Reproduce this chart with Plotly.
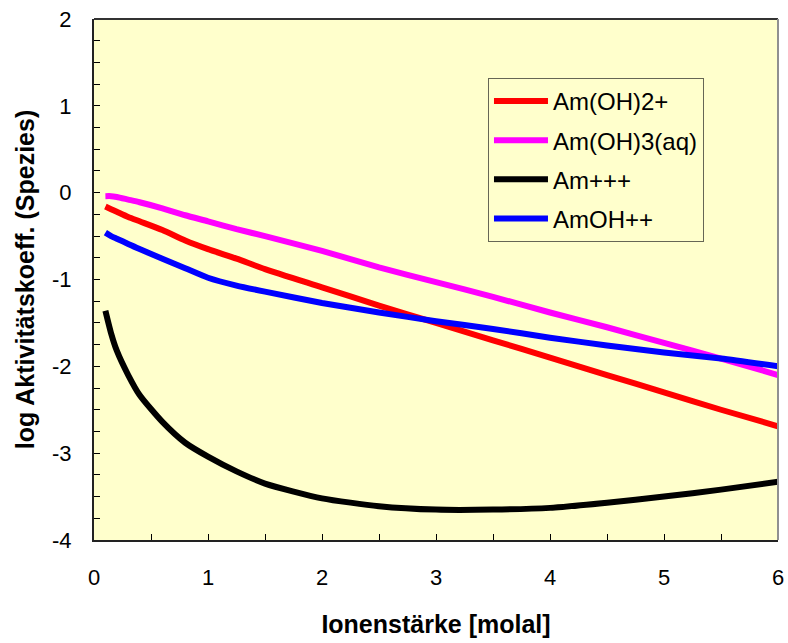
import plotly.graph_objects as go

# Ionic strength (molal)
ionic_strength = [0.1, 0.15, 0.2, 0.3, 0.4, 0.6, 0.8, 1.0, 1.25, 1.5, 2.0, 2.5,
                  3.0, 3.5, 4.0, 4.5, 5.0, 5.5, 6.0]

# log activity coefficients per species
am_oh2 = [-0.16, -0.19, -0.22, -0.28, -0.33, -0.43, -0.55, -0.65, -0.76, -0.88,
          -1.09, -1.30, -1.50, -1.70, -1.90, -2.10, -2.30, -2.50, -2.69]
am_oh3_aq = [-0.04, -0.04, -0.05, -0.08, -0.11, -0.18, -0.26, -0.33, -0.42, -0.50,
             -0.67, -0.86, -1.03, -1.20, -1.38, -1.55, -1.73, -1.91, -2.10]
am3 = [-1.36, -1.62, -1.82, -2.10, -2.33, -2.64, -2.88, -3.04, -3.21, -3.35,
       -3.52, -3.61, -3.65, -3.65, -3.63, -3.57, -3.50, -3.42, -3.33]
amoh2 = [-0.46, -0.50, -0.53, -0.59, -0.65, -0.76, -0.87, -0.98, -1.07, -1.14,
         -1.27, -1.38, -1.48, -1.57, -1.67, -1.76, -1.84, -1.91, -2.00]

series_names = ["Am(OH)2+", "Am(OH)3(aq)", "Am+++", "AmOH++"]
series_values = [am_oh2, am_oh3_aq, am3, amoh2]
series_colors = ["#FF0000", "#FF00FF", "#000000", "#0000FF"]

x_tick_vals = [0, 1, 2, 3, 4, 5, 6]
x_tick_text = ["0", "1", "2", "3", "4", "5", "6"]
y_tick_vals = [-4, -3, -2, -1, 0, 1, 2]
y_tick_text = ["-4", "-3", "-2", "-1", "0", "1", "2"]

FONT = "Liberation Sans, Arial, sans-serif"
BG = "#FFFFCC"

fig = go.Figure()
for i, (name, vals, col) in enumerate(zip(series_names, series_values, series_colors)):
    fig.add_trace(go.Scatter(
        x=ionic_strength, y=vals, name=name, mode="lines",
        line=dict(color=col, width=6, shape="spline", smoothing=0.6),
        legendgroup=f"g{i}",
    ))

axis_common = dict(
    showgrid=False, zeroline=False, automargin=False,
    showline=True, linecolor="#222222", linewidth=2,
    ticks="inside", ticklen=6, tickwidth=1, tickcolor="#000000",
    tickfont=dict(family=FONT, size=22, color="#000000"),
)

fig.update_xaxes(
    range=[0, 6], tickmode="array", tickvals=x_tick_vals, ticktext=x_tick_text,
    minor=dict(dtick=0.5, ticks="inside", ticklen=6, tickcolor="#000000"),
    ticklabelstandoff=17,
    title=dict(text="<b>Ionenstärke [molal]</b>",
               font=dict(family=FONT, size=25, color="#000000"), standoff=26),
    **axis_common,
)
fig.update_yaxes(
    range=[-4, 2], tickmode="array", tickvals=y_tick_vals, ticktext=y_tick_text,
    minor=dict(dtick=0.25, ticks="inside", ticklen=6, tickcolor="#000000"),
    ticklabelstandoff=16,
    title=dict(text="<b>log Aktivitätskoeff. (Spezies)</b>",
               font=dict(family=FONT, size=25, color="#000000"), standoff=10),
    **axis_common,
)

# frame on the top and right edges of the plotting area
fig.add_shape(type="line", xref="paper", yref="paper", x0=0, x1=1, y0=1, y1=1,
              line=dict(color="#333333", width=2))
fig.add_shape(type="line", xref="paper", yref="paper", x0=1, x1=1, y0=0, y1=1,
              line=dict(color="#909090", width=2))

fig.update_layout(
    width=788, height=643,
    margin=dict(l=94, r=10, t=19, b=103),
    paper_bgcolor="#FFFFFF", plot_bgcolor=BG,
    font=dict(family=FONT, size=20, color="#000000"),
    legend=dict(
        x=0.576, y=0.887, xanchor="left", yanchor="top",
        bgcolor=BG, bordercolor="#666655", borderwidth=1,
        font=dict(family=FONT, size=24, color="#000000"),
        traceorder="grouped", tracegroupgap=5,
        itemwidth=54,
    ),
)

fig.write_html("out.html")
